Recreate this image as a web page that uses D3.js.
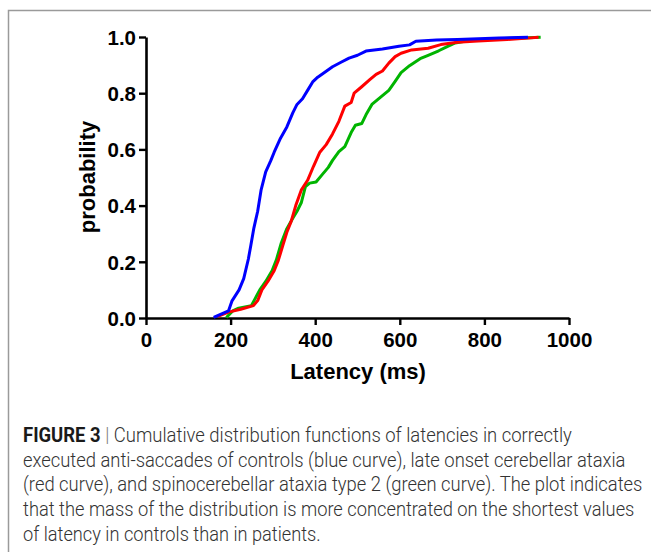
<!DOCTYPE html>
<html>
<head>
<meta charset="utf-8">
<script src="https://cdnjs.cloudflare.com/ajax/libs/d3/7.8.5/d3.min.js"></script>
<style>
    body { margin: 0; background: #fff; }
    svg { display: block; }
</style>
</head>
<body>
<script>
// latency (ms), cumulative probability
var controls = [
    [160, 0.002], [195, 0.025], [203, 0.06], [220, 0.10], [231, 0.14], [242, 0.21],
    [248, 0.26], [255, 0.32], [264, 0.38], [272, 0.455], [283, 0.52], [295, 0.56],
    [303, 0.59], [318, 0.64], [333, 0.68], [347, 0.73], [357, 0.76], [370, 0.78],
    [382, 0.81], [394, 0.84], [406, 0.857], [421, 0.873], [441, 0.894], [461, 0.91],
    [480, 0.925], [500, 0.935], [520, 0.95], [559, 0.957], [598, 0.967], [623, 0.972],
    [638, 0.985], [687, 0.989], [736, 0.991], [835, 0.996], [903, 0.999]
];
var lateOnset = [
    [170, 0.006], [195, 0.021], [224, 0.031], [254, 0.044], [264, 0.062], [274, 0.10],
    [288, 0.13], [303, 0.168], [313, 0.206], [323, 0.256], [333, 0.305], [343, 0.343],
    [354, 0.40], [367, 0.455], [382, 0.49], [396, 0.54], [411, 0.59], [426, 0.617],
    [441, 0.655], [456, 0.70], [470, 0.754], [485, 0.767], [492, 0.80], [510, 0.823],
    [529, 0.848], [544, 0.867], [559, 0.879], [574, 0.907], [589, 0.93], [603, 0.942],
    [628, 0.954], [667, 0.96], [697, 0.973], [736, 0.981], [785, 0.986], [854, 0.991],
    [903, 0.996], [928, 0.999]
];
var sca2 = [
    [190, 0.002], [205, 0.025], [219, 0.035], [249, 0.044], [258, 0.069], [269, 0.10],
    [283, 0.13], [298, 0.168], [308, 0.206], [320, 0.268], [333, 0.318], [347, 0.355],
    [357, 0.38], [367, 0.41], [377, 0.468], [387, 0.48], [402, 0.484], [417, 0.511],
    [431, 0.536], [441, 0.561], [456, 0.592], [470, 0.61], [485, 0.66], [495, 0.686],
    [510, 0.692], [520, 0.723], [534, 0.76], [554, 0.785], [574, 0.81], [589, 0.842],
    [603, 0.873], [623, 0.898], [648, 0.923], [667, 0.935], [692, 0.951], [712, 0.966],
    [731, 0.979], [766, 0.988], [835, 0.994], [933, 0.999]
];
var xTicks = [0, 200, 400, 600, 800, 1000];
var yTicks = [0, 0.2, 0.4, 0.6, 0.8, 1.0];

var captionLines = [
    " Cumulative distribution functions of latencies in correctly",
    "executed anti-saccades of controls (blue curve), late onset cerebellar ataxia",
    "(red curve), and spinocerebellar ataxia type 2 (green curve). The plot indicates",
    "that the mass of the distribution is more concentrated on the shortest values",
    "of latency in controls than in patients."
];
var captionWidths = [549, 603, 620, 612, 298];

var svg = d3.select("body").append("svg")
    .attr("width", 651)
    .attr("height", 552);

// grey frame round the figure
svg.append("rect")
    .attr("x", 8.5)
    .attr("y", 10.5)
    .attr("width", 700)
    .attr("height", 600)
    .style("fill", "none")
    .style("stroke", "#9a9a9a")
    .style("stroke-width", 1.5);

var x = d3.scaleLinear().domain([0, 1000]).range([146, 569]);
var y = d3.scaleLinear().domain([0, 1]).range([318, 37]);

var xAxis = svg.append("g")
    .attr("transform", "translate(0,318)")
    .call(d3.axisBottom(x).tickValues(xTicks).tickSize(7).tickSizeOuter(0).tickPadding(7)
        .tickFormat(d3.format("d")));

var yAxis = svg.append("g")
    .attr("transform", "translate(146,0)")
    .call(d3.axisLeft(y).tickValues(yTicks).tickSize(7).tickSizeOuter(0).tickPadding(3)
        .tickFormat(d3.format(".1f")));

[xAxis, yAxis].forEach(function (ax) {
    ax.select(".domain").style("stroke", "#000").style("stroke-width", 2.6);
    ax.selectAll(".tick line").style("stroke", "#000").style("stroke-width", 2.4);
    ax.selectAll(".tick text")
        .style("font-family", "'Liberation Sans', Arial, sans-serif")
        .style("font-weight", "bold")
        .style("font-size", "20.5px")
        .style("fill", "#000");
});
yAxis.selectAll(".tick text").attr("dy", "0.36em");

var line = d3.line()
    .x(function (d) { return x(d[0]); })
    .y(function (d) { return y(d[1]); });

var curves = [
    { data: sca2, color: "#00b400" },
    { data: lateOnset, color: "#ff0000" },
    { data: controls, color: "#0000ff" }
];

svg.append("g").selectAll("path")
    .data(curves)
    .enter().append("path")
    .attr("d", function (d) { return line(d.data); })
    .style("fill", "none")
    .style("stroke", function (d) { return d.color; })
    .style("stroke-width", 3)
    .style("stroke-linejoin", "round");

svg.append("text")
    .attr("x", 358)
    .attr("y", 379)
    .attr("text-anchor", "middle")
    .style("font-family", "'Liberation Sans', Arial, sans-serif")
    .style("font-weight", "bold")
    .style("font-size", "22px")
    .text("Latency (ms)");

svg.append("text")
    .attr("transform", "translate(95,177) rotate(-90)")
    .attr("text-anchor", "middle")
    .style("font-family", "'Liberation Sans', Arial, sans-serif")
    .style("font-weight", "bold")
    .style("font-size", "22px")
    .text("probability");

// caption, squeezed to the narrow face of the original
var caption = svg.append("g");
captionLines.forEach(function (txt, i) {
    var t = caption.append("text")
        .attr("y", 442 + i * 24.7)
        .style("font-family", "Roboto, 'Liberation Sans', sans-serif")
        .style("font-weight", 300)
        .style("font-size", "19.5px")
        .style("fill", "#333");
    if (i == 0) {
        t.append("tspan").style("font-weight", "bold").style("fill", "#1a1a1a").text("FIGURE 3");
        t.append("tspan").style("fill", "#777").text(" |");
    }
    t.append("tspan").text(txt);
    var w = t.node().getBBox().width;
    t.attr("transform", "translate(23,0) scale(" + (captionWidths[i] / w) + ",1)");
});
</script>
</body>
</html>
